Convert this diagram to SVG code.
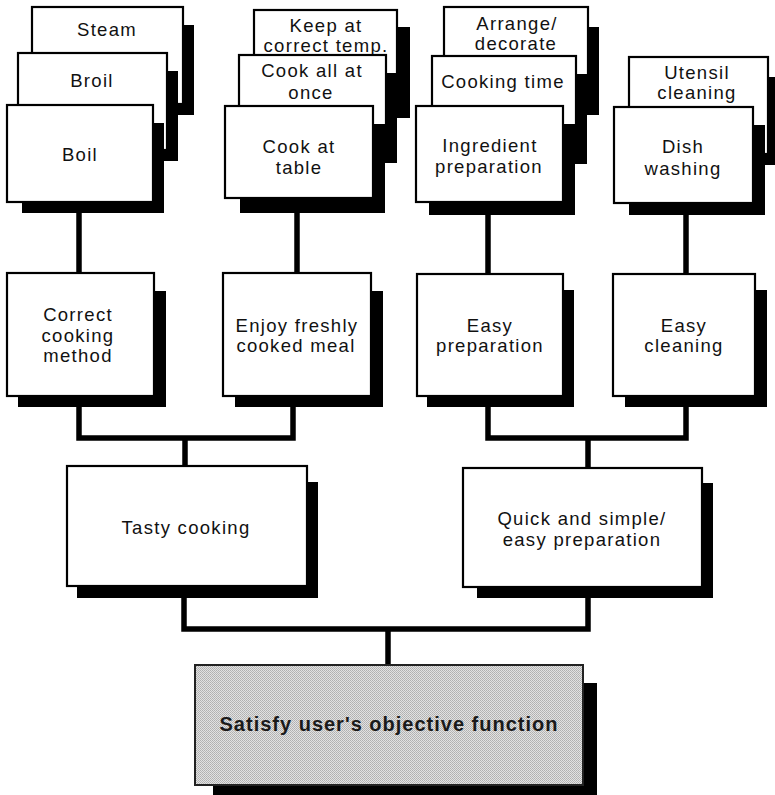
<svg xmlns="http://www.w3.org/2000/svg" width="775" height="795" viewBox="0 0 775 795">
  <style>
    .box{fill:#fff;stroke:#000;stroke-width:2.2}
    .shadow{fill:#000}
    .goal{fill:url(#halftone);stroke:#222;stroke-width:2}
    .lbl{font-family:"Liberation Sans",Arial,sans-serif;font-size:18.5px;letter-spacing:1.3px;fill:#111;text-anchor:middle}
    .lbl-goal{font-family:"Liberation Sans",Arial,sans-serif;font-size:20px;font-weight:bold;letter-spacing:1px;fill:#1a1a1a;text-anchor:middle}
    .wire{fill:none;stroke:#000;stroke-width:5.5;stroke-linejoin:miter;stroke-linecap:butt}
  </style>
  <defs>
    <!-- fine dot screen for the shaded goal box -->
    <pattern id="halftone" width="2" height="2" patternUnits="userSpaceOnUse">
      <rect width="2" height="2" fill="#e2e2e2"/>
      <rect width="1" height="1" fill="#b0b0b0"/>
      <rect x="1" y="1" width="1" height="1" fill="#b8b8b8"/>
    </pattern>
  </defs>
  <rect width="775" height="795" fill="#fff"/>

  <!-- connectors (drawn first so shadows cover their ends) -->
  <g id="connectors">
    <path class="wire" d="M79 210 V276"/>
    <path class="wire" d="M297 210 V276"/>
    <path class="wire" d="M488 212 V277"/>
    <path class="wire" d="M686 212 V277"/>
    <path class="wire" d="M79 404 V438 H293 V404"/>
    <path class="wire" d="M185 438 V468"/>
    <path class="wire" d="M488 404 V438 H686 V404"/>
    <path class="wire" d="M588 438 V470"/>
    <path class="wire" d="M184 595 V629 H588 V595"/>
    <path class="wire" d="M388 629 V667"/>
  </g>

  <!-- cooking method stack -->
  <g id="steam">
    <rect class="shadow" x="47" y="25" width="147" height="90"/>
    <rect class="box" x="32" y="7" width="151" height="97"/>
    <text class="lbl" x="107" y="36">Steam</text>
  </g>
  <g id="broil">
    <rect class="shadow" x="33" y="71" width="145" height="90"/>
    <rect class="box" x="18" y="53" width="149" height="97"/>
    <text class="lbl" x="92" y="87">Broil</text>
  </g>
  <g id="boil">
    <rect class="shadow" x="22" y="123" width="142" height="90"/>
    <rect class="box" x="7" y="105" width="146" height="97"/>
    <text class="lbl" x="80" y="161">Boil</text>
  </g>

  <!-- serving stack -->
  <g id="keep-temp">
    <rect class="shadow" x="269" y="27" width="141" height="91"/>
    <rect class="box" x="254" y="10" width="143" height="97"/>
    <text class="lbl" x="326" y="32">Keep at</text>
    <text class="lbl" x="326" y="52">correct temp.</text>
  </g>
  <g id="cook-all">
    <rect class="shadow" x="254" y="73" width="143" height="90"/>
    <rect class="box" x="239" y="55" width="147" height="97"/>
    <text class="lbl" x="312" y="77">Cook all at</text>
    <text class="lbl" x="311" y="99">once</text>
  </g>
  <g id="cook-table">
    <rect class="shadow" x="240" y="124" width="145" height="89"/>
    <rect class="box" x="225" y="106" width="148" height="92"/>
    <text class="lbl" x="299" y="153">Cook at</text>
    <text class="lbl" x="299" y="174">table</text>
  </g>

  <!-- preparation stack -->
  <g id="arrange">
    <rect class="shadow" x="459" y="27" width="140" height="88"/>
    <rect class="box" x="444" y="7" width="144" height="97"/>
    <text class="lbl" x="517" y="30">Arrange/</text>
    <text class="lbl" x="516" y="50">decorate</text>
  </g>
  <g id="cooking-time">
    <rect class="shadow" x="447" y="74" width="140" height="90"/>
    <rect class="box" x="432" y="56" width="144" height="97"/>
    <text class="lbl" x="503" y="88">Cooking time</text>
  </g>
  <g id="ingredient-prep">
    <rect class="shadow" x="429" y="124" width="146" height="91"/>
    <rect class="box" x="416" y="106" width="147" height="96"/>
    <text class="lbl" x="490" y="152">Ingredient</text>
    <text class="lbl" x="489" y="173">preparation</text>
  </g>

  <!-- cleaning stack -->
  <g id="utensil-cleaning">
    <rect class="shadow" x="644" y="77" width="131" height="88"/>
    <rect class="box" x="629" y="57" width="139" height="97"/>
    <text class="lbl" x="697" y="79">Utensil</text>
    <text class="lbl" x="697" y="99">cleaning</text>
  </g>
  <g id="dish-washing">
    <rect class="shadow" x="629" y="125" width="136" height="90"/>
    <rect class="box" x="614" y="107" width="139" height="96"/>
    <text class="lbl" x="683" y="153">Dish</text>
    <text class="lbl" x="683" y="175">washing</text>
  </g>

  <!-- second level -->
  <g id="correct-method">
    <rect class="shadow" x="18" y="291" width="148" height="116"/>
    <rect class="box" x="7" y="273" width="147" height="123"/>
    <text class="lbl" x="78" y="321">Correct</text>
    <text class="lbl" x="78" y="342">cooking</text>
    <text class="lbl" x="78" y="362">method</text>
  </g>
  <g id="fresh-meal">
    <rect class="shadow" x="235" y="291" width="148" height="116"/>
    <rect class="box" x="223" y="273" width="148" height="123"/>
    <text class="lbl" x="297" y="332">Enjoy freshly</text>
    <text class="lbl" x="296" y="352">cooked meal</text>
  </g>
  <g id="easy-prep">
    <rect class="shadow" x="427" y="290" width="147" height="117"/>
    <rect class="box" x="417" y="274" width="146" height="122"/>
    <text class="lbl" x="490" y="332">Easy</text>
    <text class="lbl" x="490" y="352">preparation</text>
  </g>
  <g id="easy-cleaning">
    <rect class="shadow" x="625" y="290" width="142" height="117"/>
    <rect class="box" x="613" y="274" width="142" height="122"/>
    <text class="lbl" x="684" y="332">Easy</text>
    <text class="lbl" x="684" y="352">cleaning</text>
  </g>

  <!-- third level -->
  <g id="tasty">
    <rect class="shadow" x="77" y="482" width="241" height="116"/>
    <rect class="box" x="67" y="466" width="240" height="120"/>
    <text class="lbl" x="186" y="534">Tasty cooking</text>
  </g>
  <g id="quick-simple">
    <rect class="shadow" x="477" y="483" width="236" height="115"/>
    <rect class="box" x="463" y="468" width="239" height="119"/>
    <text class="lbl" x="582" y="525">Quick and simple/</text>
    <text class="lbl" x="582" y="546">easy preparation</text>
  </g>

  <!-- goal -->
  <g id="objective">
    <rect class="shadow" x="213" y="683" width="384" height="120"/>
    <rect class="goal" x="195" y="665" width="388" height="120"/>
    <text class="lbl-goal" x="389" y="731">Satisfy user's objective function</text>
  </g>
</svg>
